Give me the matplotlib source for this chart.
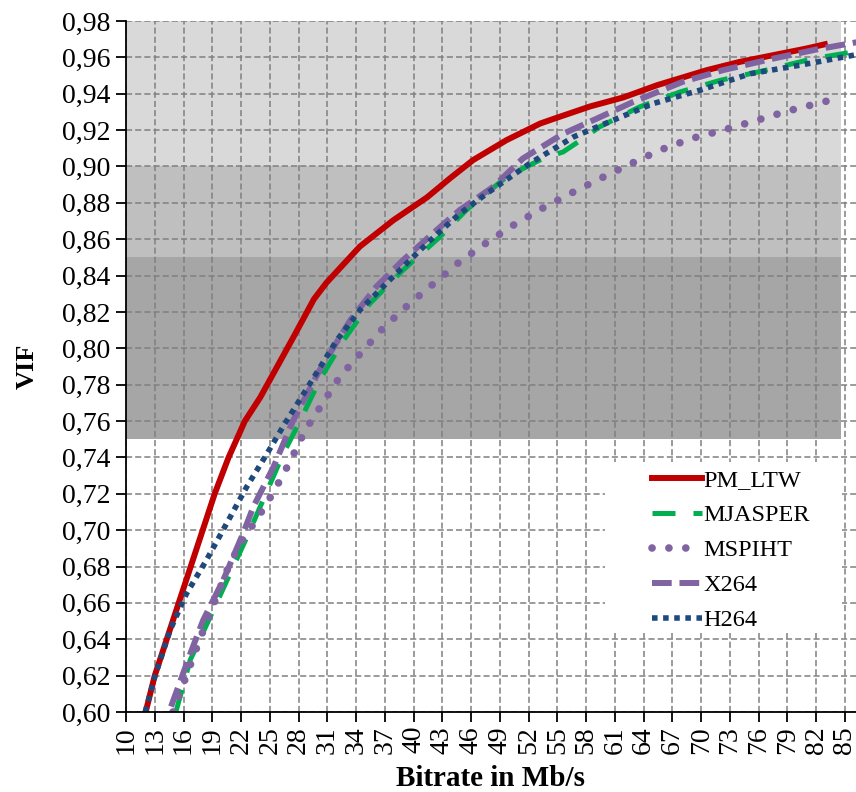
import matplotlib
matplotlib.use("Agg")
import matplotlib.pyplot as plt
from matplotlib.patches import Rectangle
from matplotlib.ticker import FuncFormatter, MultipleLocator

plt.rcParams['font.family'] = ['Liberation Serif', 'DejaVu Serif']

# VIF curves (bitrate in Mb/s)
pm_ltw_x = [12.05, 13.0, 14.25, 15.5, 16.75, 18.0, 19.25, 20.7, 22.4, 24.0, 27.45, 29.6, 30.9, 34.4,
            37.9, 41.4, 43.8, 46.2, 49.7, 53.2, 54.5, 58.4, 61.9, 65.4, 70.6, 74.0, 77.5, 81.0, 82.9]
pm_ltw_y = [0.600, 0.620, 0.640, 0.660, 0.680, 0.700, 0.720, 0.740, 0.760, 0.773, 0.806, 0.827, 0.836, 0.856,
            0.8705, 0.883, 0.8935, 0.9035, 0.9145, 0.9236, 0.926, 0.933, 0.938, 0.9447, 0.953, 0.9575, 0.9612, 0.9649, 0.9672]

mjasper_x = [15.2, 16.7, 18.76, 20.85, 22.6, 24.3, 26.4, 28.15, 30.2, 32.7, 35.45, 38.9, 42.75, 45.5,
             49.7, 53.5, 55.6, 57.7, 59.4, 63.6, 67.8, 72.0, 76.8, 81.7, 86.2]
mjasper_y = [0.600, 0.6286, 0.652, 0.676, 0.696, 0.7165, 0.742, 0.760, 0.7825, 0.8045, 0.8247, 0.843, 0.8613, 0.876,
             0.8943, 0.9044, 0.908, 0.9154, 0.9218, 0.9328, 0.941, 0.9474, 0.953, 0.9593, 0.9633]

mspiht_x = [14.9, 16.3, 17.7, 19.2, 20.7, 22.3, 23.6, 25.4, 27.1, 28.7, 30.4, 32.3, 34.6, 36.8, 39.4, 42.1,
            44.8, 47.6, 50.4, 53.4, 56.5, 59.6, 62.7, 65.7, 69.0, 72.5, 75.8, 79.1, 82.4, 84.1]
mspiht_y = [0.600, 0.620, 0.640, 0.660, 0.680, 0.696, 0.7056, 0.721, 0.7376, 0.755, 0.7688, 0.7843, 0.798, 0.811,
            0.8237, 0.8356, 0.8476, 0.858, 0.8677, 0.8769, 0.8855, 0.8937, 0.9016, 0.909, 0.9154, 0.9203, 0.9254,
            0.9306, 0.935, 0.9373]

x264_x = [14.7, 15.6, 16.7, 18.06, 20.15, 22.2, 23.3, 25.4, 27.45, 30.2, 33.4, 36.1, 38.9, 42.4, 44.8, 48.3,
          51.4, 55.6, 59.1, 62.9, 68.1, 72.3, 77.5, 82.0, 86.2]
x264_y = [0.603, 0.616, 0.632, 0.6506, 0.6726, 0.698, 0.713, 0.7349, 0.7605, 0.788, 0.8155, 0.8338, 0.8485, 0.865,
          0.876, 0.8888, 0.9044, 0.918, 0.9263, 0.9355, 0.9466, 0.953, 0.9593, 0.9643, 0.9683]

h264_x = [12.0, 13.0, 14.6, 16.3, 18.4, 20.5, 22.6, 24.7, 26.5, 29.2, 32.0, 34.4, 37.5, 41.4, 44.8, 47.6,
          52.1, 56.7, 60.8, 65.0, 69.9, 75.1, 80.3, 86.2]
h264_y = [0.600, 0.6194, 0.645, 0.665, 0.6836, 0.7037, 0.7239, 0.742, 0.758, 0.7807, 0.8045, 0.821, 0.8375, 0.8577,
          0.874, 0.885, 0.9016, 0.9163, 0.9254, 0.9346, 0.942, 0.951, 0.9557, 0.9615]

# quality bands behind the curves
band_lo = [0.75, 0.85, 0.90]
band_hi = [0.85, 0.90, 0.98]
band_colors = ['#a6a6a6', '#bfbfbf', '#d9d9d9']
band_x = [10, 84.6]

x_ticks = list(range(10, 86, 3))

fig = plt.figure(figsize=(8.56, 7.92), dpi=100)
ax = fig.add_axes([126 / 856, 80 / 792, 730 / 856, 691 / 792])

for lo, hi, c in zip(band_lo, band_hi, band_colors):
    ax.fill_between(band_x, [lo, lo], [hi, hi], color=c, lw=0, zorder=0.2)

ax.plot(pm_ltw_x, pm_ltw_y, color='#c00000', lw=4.3, label='PM_LTW', zorder=3)
ax.plot(mjasper_x, mjasper_y, color='#00b050', lw=3.6, dashes=(4.6, 3.6), label='MJASPER', zorder=3)
ax.plot(mspiht_x, mspiht_y, color='#8064a2', lw=5.5, dashes=(0.01, 2.2), dash_capstyle='round',
        label='MSPIHT', zorder=3)
ax.plot(x264_x, x264_y, color='#8064a2', lw=4.3, dashes=(3.3, 1.3), label='X264', zorder=3)
ax.plot(h264_x, h264_y, color='#1f497d', lw=4.0, dashes=(1, 1.0), label='H264', zorder=3)

ax.set_xlim(10, 86.15)
ax.set_ylim(0.60, 0.98)
ax.set_xticks(x_ticks)
ax.yaxis.set_major_locator(MultipleLocator(0.02))
ax.yaxis.set_major_formatter(FuncFormatter(lambda v, p: '{:.2f}'.format(v).replace('.', ',')))

ax.set_axisbelow(True)
ax.grid(True, color='#808080', lw=1.1, linestyle=(0, (4, 2)))

for s in ['top', 'right']:
    ax.spines[s].set_visible(False)
for s in ['left', 'bottom']:
    ax.spines[s].set_linewidth(1.3)
    ax.spines[s].set_zorder(4)

ax.tick_params(axis='both', direction='out', length=7, width=1.3, labelsize=20, colors='black')
ax.tick_params(axis='x', labelrotation=90, pad=3)
ax.tick_params(axis='y', pad=4)

ax.set_ylabel('VIF', fontsize=19, fontweight='bold', labelpad=17)
ax.set_xlabel('Bitrate in Mb/s', fontsize=21, fontweight='bold', labelpad=8)

# white area behind the legend
ax.add_patch(Rectangle((0.656, 0.114), 0.325, 0.248, transform=ax.transAxes,
                       facecolor='white', edgecolor='none', zorder=2.5))

leg = ax.legend(loc='upper left', bbox_to_anchor=(0.7205, 0.351), fontsize=17.5, frameon=False,
                handlelength=2.06, handletextpad=0.05, labelspacing=0.53, borderpad=0, borderaxespad=0)
leg.set_zorder(5)

fig.savefig('out.png', dpi=100)
